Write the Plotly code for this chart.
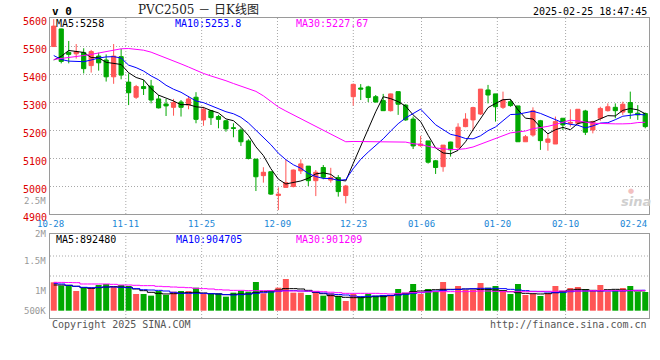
import plotly.graph_objects as go

# ---------------- data ----------------
opens = [5498, 5561, 5477, 5472, 5477, 5430, 5464, 5450, 5390, 5462,
         5371, 5317, 5355, 5357, 5311, 5293, 5281, 5300, 5289, 5317,
         5236, 5269, 5248, 5233, 5208, 5200, 5161, 5096, 5037, 5051,
         4966, 4995, 4998, 5054, 5071, 5019, 5066, 5021, 5030, 4966,
         5319, 5350, 5354, 5319, 5305, 5269, 5337, 5289, 5239, 5144,
         5161, 5090, 5069, 5157, 5138, 5212, 5236, 5257, 5343, 5329,
         5281, 5301, 5286, 5158, 5182, 5233, 5156, 5150, 5242, 5224,
         5224, 5268, 5200, 5242, 5269, 5281, 5264, 5298, 5260, 5259]
highs = [5596, 5562, 5518, 5507, 5492, 5486, 5476, 5470, 5507, 5490,
         5402, 5361, 5379, 5379, 5325, 5311, 5311, 5307, 5321, 5335,
         5283, 5271, 5254, 5236, 5224, 5206, 5167, 5096, 5067, 5051,
         4995, 5095, 5059, 5095, 5071, 5057, 5075, 5065, 5039, 5004,
         5366, 5364, 5358, 5325, 5329, 5330, 5337, 5292, 5248, 5179,
         5161, 5093, 5146, 5158, 5224, 5260, 5283, 5346, 5361, 5329,
         5337, 5310, 5286, 5182, 5281, 5236, 5188, 5248, 5242, 5274,
         5275, 5272, 5233, 5283, 5295, 5295, 5301, 5337, 5289, 5262]
lows = [5497, 5438, 5438, 5455, 5402, 5405, 5412, 5373, 5365, 5381,
        5289, 5311, 5325, 5295, 5277, 5250, 5251, 5248, 5274, 5224,
        5215, 5218, 5206, 5194, 5174, 5143, 5095, 4982, 5012, 4968,
        4914, 4995, 4995, 5043, 5000, 4964, 5024, 5012, 4962, 4938,
        5287, 5307, 5300, 5298, 5268, 5266, 5254, 5233, 5132, 5140,
        5080, 5043, 5051, 5105, 5129, 5210, 5200, 5254, 5295, 5230,
        5275, 5283, 5158, 5158, 5176, 5129, 5126, 5150, 5200, 5212,
        5218, 5182, 5188, 5233, 5266, 5242, 5254, 5240, 5236, 5206]
closes = [5571, 5445, 5470, 5480, 5419, 5480, 5440, 5390, 5464, 5396,
          5333, 5355, 5348, 5307, 5279, 5286, 5298, 5281, 5311, 5238,
          5274, 5244, 5238, 5204, 5206, 5158, 5098, 5033, 5049, 4971,
          4971, 5012, 5057, 5079, 5019, 5049, 5031, 5030, 4980, 5000,
          5363, 5346, 5316, 5300, 5269, 5329, 5292, 5236, 5143, 5150,
          5085, 5066, 5146, 5129, 5210, 5239, 5280, 5346, 5325, 5283,
          5307, 5287, 5158, 5176, 5269, 5162, 5168, 5230, 5218, 5227,
          5274, 5192, 5230, 5277, 5283, 5269, 5292, 5262, 5254, 5212]

ma5 = [5450, 5463, 5484, 5481, 5477, 5458.8, 5457.8, 5441.8, 5438.6, 5434,
       5404.6, 5387.6, 5379.2, 5347.8, 5324.4, 5315, 5303.6, 5290.2, 5291, 5282.8,
       5280.4, 5269.6, 5261, 5239.6, 5233.2, 5210, 5180.8, 5139.8, 5108.8, 5061.8,
       5024.4, 5007.2, 5012, 5018, 5027.6, 5043.2, 5047, 5041.6, 5021.8, 5018,
       5080.8, 5143.8, 5201, 5265, 5318.8, 5312, 5301.2, 5285.2, 5253.8, 5230,
       5181.2, 5136, 5118, 5115.2, 5127.2, 5158, 5200.8, 5240.8, 5280, 5294.6,
       5308.2, 5309.6, 5272, 5242.2, 5239.4, 5210.4, 5186.6, 5201, 5209.4, 5201,
       5223.4, 5228.2, 5228.2, 5240, 5251.2, 5250.2, 5270.2, 5276.6, 5272, 5258]
ma10 = [5466, 5452, 5446, 5444, 5444, 5450, 5457, 5461, 5462, 5457,
        5431.7, 5422.7, 5410.5, 5393.2, 5379.2, 5359.8, 5345.6, 5334.7, 5319.4, 5303.6,
        5297.7, 5286.6, 5275.6, 5265.3, 5258, 5245.2, 5225.2, 5200.4, 5174.2, 5147.5,
        5117.2, 5094, 5075.9, 5063.4, 5044.7, 5033.8, 5027.1, 5026.8, 5019.9, 5022.8,
        5062, 5095.4, 5121.3, 5143.4, 5168.4, 5196.4, 5222.5, 5243.1, 5259.4, 5274.4,
        5246.6, 5218.6, 5201.6, 5184.5, 5178.6, 5169.6, 5168.4, 5179.4, 5197.6, 5210.9,
        5233.1, 5255.2, 5256.4, 5261.1, 5267, 5259.3, 5248.1, 5236.5, 5225.8, 5220.2,
        5216.9, 5207.4, 5214.6, 5224.7, 5226.1, 5236.8, 5249.2, 5252.4, 5256, 5253.8]
ma30 = [5452, 5455, 5459, 5462, 5466, 5470, 5475, 5480, 5485, 5490,
        5491, 5489, 5485, 5478, 5468, 5458, 5447, 5436, 5425, 5413,
        5402, 5393, 5385, 5376, 5366, 5357, 5348, 5338, 5322, 5302.2,
        5282.2, 5267.8, 5254, 5240.6, 5227.3, 5212.9, 5199.3, 5187.3, 5171.2, 5158,
        5159, 5158.7, 5157.6, 5157.4, 5157, 5158.5, 5158.3, 5156.8, 5151.2, 5148.2,
        5141.9, 5136, 5132.9, 5130.4, 5130.6, 5133.3, 5139.3, 5149.8, 5159, 5169.4,
        5180.6, 5189.7, 5193.1, 5196.3, 5204.7, 5208.4, 5213, 5219.7, 5227.6, 5235.2,
        5232.2, 5227.1, 5224.2, 5223.4, 5223.9, 5221.9, 5221.9, 5222.8, 5226.5, 5227.67]

volumes = [1062000, 996000, 1009000, 890000, 956000, 956000, 1009000, 1029000, 976000, 1009000,
           989000, 831000, 831000, 798000, 890000, 811000, 877000, 890000, 890000, 956000,
           844000, 831000, 844000, 778000, 857000, 890000, 877000, 1068000, 844000, 890000,
           956000, 1128000, 857000, 857000, 811000, 877000, 798000, 844000, 791000, 692000,
           831000, 778000, 831000, 798000, 811000, 798000, 930000, 844000, 1029000, 831000,
           930000, 877000, 1068000, 831000, 989000, 910000, 910000, 1048000, 956000, 989000,
           890000, 831000, 1029000, 811000, 831000, 791000, 844000, 989000, 890000, 950000,
           969000, 930000, 890000, 1009000, 877000, 897000, 950000, 989000, 870000, 870000]
vol_ma5 = [1009000, 1009000, 1003000, 983000, 956000, 943000, 956000, 969000, 976000, 969000,
           963000, 930000, 897000, 864000, 844000, 831000, 837000, 851000, 857000, 864000,
           851000, 837000, 831000, 818000, 824000, 831000, 831000, 857000, 877000, 890000,
           910000, 937000, 937000, 930000, 903000, 864000, 837000, 798000, 785000, 765000,
           758000, 758000, 771000, 778000, 778000, 798000, 824000, 844000, 877000, 890000,
           903000, 916000, 923000, 923000, 923000, 930000, 930000, 923000, 923000, 910000,
           897000, 877000, 857000, 844000, 837000, 831000, 837000, 857000, 884000, 910000,
           923000, 916000, 903000, 897000, 916000, 923000, 910000, 903000, 890000, 892480]
vol_ma10 = [1042000, 1029000, 1003000, 983000, 963000, 956000, 963000, 969000, 969000, 963000,
            956000, 937000, 916000, 910000, 903000, 890000, 864000, 844000, 844000, 844000,
            844000, 837000, 831000, 818000, 811000, 818000, 831000, 844000, 857000, 870000,
            884000, 897000, 897000, 890000, 885000, 870000, 850000, 830000, 820000, 811000,
            791000, 778000, 785000, 791000, 798000, 804000, 811000, 824000, 844000, 857000,
            877000, 890000, 903000, 916000, 923000, 930000, 937000, 943000, 943000, 943000,
            937000, 923000, 910000, 897000, 884000, 877000, 870000, 857000, 864000, 877000,
            890000, 890000, 890000, 890000, 890000, 890000, 890000, 897000, 903000, 904705]
vol_ma30 = [1062000, 1060000, 1058000, 1055000, 1029000, 1029000, 1029000, 1029000, 1022000, 1009000,
            1009000, 1003000, 996000, 996000, 983000, 976000, 969000, 963000, 956000, 943000,
            937000, 930000, 916000, 910000, 903000, 903000, 897000, 897000, 897000, 897000,
            890000, 890000, 890000, 890000, 888000, 884000, 876000, 866000, 857000, 844000,
            844000, 844000, 844000, 844000, 837000, 831000, 837000, 851000, 857000, 864000,
            870000, 877000, 877000, 877000, 877000, 877000, 884000, 890000, 890000, 884000,
            877000, 877000, 877000, 877000, 877000, 884000, 884000, 884000, 890000, 890000,
            890000, 890000, 897000, 897000, 897000, 897000, 897000, 897000, 903000, 901209]

date_labels = ["10-28", "11-11", "11-25", "12-09", "12-23", "01-06", "01-20", "02-10", "02-24"]
date_index = [0, 10, 20, 30, 40, 49, 59, 68, 77]
price_ticks = [4900, 5000, 5100, 5200, 5300, 5400, 5500, 5600]
vol_tick_labels = ["2.5M", "2M", "1.5M", "1M", "500K"]

# ---------------- styling ----------------
N = len(closes)
x = list(range(N))
RED = "#ff5555"
GREEN = "#00a800"
MONO = "DejaVu Sans Mono"
GRID = "#a8a8a8"
BORDER = "#9a9a9a"
VOL_BASE = 500000

W, H = 660, 360
ML, MR, MT, MB = 50, 11, 18, 42
PH = H - MT - MB


def py(p):  # pixel y -> paper y
    return (H - MB - p) / PH


def px(p):  # pixel x -> paper x
    return (p - ML) / (W - ML - MR)


fig = go.Figure()

fig.add_trace(go.Candlestick(
    x=x, open=opens, high=highs, low=lows, close=closes,
    increasing=dict(line=dict(color=RED, width=1), fillcolor=RED),
    decreasing=dict(line=dict(color=GREEN, width=1), fillcolor=GREEN),
    whiskerwidth=0, xaxis="x", yaxis="y", hoverinfo="skip"))

for vals, col in [(ma5, "#000000"), (ma10, "#0000ff"), (ma30, "#ff00ff")]:
    fig.add_trace(go.Scatter(x=x, y=vals, mode="lines", line=dict(color=col, width=1),
                             xaxis="x", yaxis="y", hoverinfo="skip"))

bar_colors = [RED if c >= o else GREEN for o, c in zip(opens, closes)]
fig.add_trace(go.Bar(x=x, y=[v - VOL_BASE for v in volumes], base=VOL_BASE,
                     marker=dict(color=bar_colors, line=dict(width=0)), width=0.8,
                     xaxis="x2", yaxis="y2", hoverinfo="skip"))
for vals, col in [(vol_ma5, "#000000"), (vol_ma10, "#0000ff"), (vol_ma30, "#ff00ff")]:
    fig.add_trace(go.Scatter(x=x, y=vals, mode="lines", line=dict(color=col, width=1, shape="hvh"),
                             xaxis="x2", yaxis="y2", hoverinfo="skip"))

axis_common = dict(showline=True, mirror=True, linecolor=BORDER, linewidth=1, zeroline=False)

fig.update_layout(
    width=W, height=H, margin=dict(l=ML, r=MR, t=MT, b=MB),
    paper_bgcolor="white", plot_bgcolor="white", showlegend=False,
    boxgap=0.2, hovermode=False,
    xaxis=dict(domain=[0, 1], range=[-0.5, N - 0.5], showgrid=False, showticklabels=False,
               rangeslider=dict(visible=False), anchor="y", **axis_common),
    yaxis=dict(domain=[py(214), 1], range=[4900, 5600], tickvals=price_ticks,
               tickfont=dict(family=MONO, size=10, color="#dd0000"), ticks="",
               ticklabelshift=3,
               showgrid=True, gridcolor=GRID, griddash="1px,2px", gridwidth=1,
               anchor="x", **axis_common),
    xaxis2=dict(domain=[0, 1], range=[-0.5, N - 0.5], showgrid=False, showticklabels=False,
                anchor="y2", **axis_common),
    yaxis2=dict(domain=[0, py(234)], range=[355446, 2018812], showgrid=False,
                showticklabels=False, anchor="x2", **axis_common),
)

# vertical dotted grid lines at date positions (sina spaces date marks over N-1 steps)
for k, (lab, i) in enumerate(zip(date_labels, date_index)):
    gx = i * N / (N - 1) - 0.5
    if 0 < k < len(date_index) - 1:
        for xr, yr in [("x", "y domain"), ("x2", "y2 domain")]:
            fig.add_shape(type="line", xref=xr, yref=yr, x0=gx, x1=gx, y0=0, y1=1,
                          line=dict(color=GRID, width=1, dash="1px,2px"), layer="below")
    fig.add_annotation(x=gx, xref="x", y=py(223.5), yref="paper", text=lab, showarrow=False,
                       font=dict(family=MONO, size=9, color="#1a86d6"),
                       xanchor="center", yanchor="middle", borderpad=0)

# horizontal dotted grid lines in volume panel
for gy in [256, 276]:
    fig.add_shape(type="line", xref="x2 domain", yref="paper", x0=0, x1=1, y0=py(gy), y1=py(gy),
                  line=dict(color=GRID, width=1, dash="1px,2px"), layer="below")

# volume axis labels (positioned as in the original)
for lab, yp in zip(vol_tick_labels, [201, 234, 261, 291, 311]):
    fig.add_annotation(x=px(47), xref="paper", y=py(yp), yref="paper", text=lab, showarrow=False,
                       font=dict(family=MONO, size=9, color="#999999"),
                       xanchor="right", yanchor="middle", borderpad=0)


def legend(items, ypix):
    for txt, col, xp in items:
        fig.add_annotation(x=px(xp), xref="paper", y=py(ypix), yref="paper", text=txt,
                           showarrow=False, font=dict(family=MONO, size=10, color=col),
                           xanchor="left", yanchor="middle")


legend([(f"MA5:{ma5[-1]}", "#000000", 54), (f"MA10:{ma10[-1]}", "#0000ff", 173),
        (f"MA30:{ma30[-1]}", "#ff00ff", 294)], 23)
legend([(f"MA5:{vol_ma5[-1]}", "#000000", 54), (f"MA10:{vol_ma10[-1]}", "#0000ff", 174),
        (f"MA30:{vol_ma30[-1]}", "#ff00ff", 294)], 239)

# header / footer texts
fig.add_annotation(x=px(50), xref="paper", y=py(12), yref="paper", text="<b>v 0</b>",
                   showarrow=False, font=dict(family=MONO, size=11, color="#000000"),
                   xanchor="left", yanchor="middle")
fig.add_annotation(x=px(198), xref="paper", y=py(10), yref="paper", text="PVC2505 － 日K线图",
                   showarrow=False, font=dict(family="DejaVu Serif, Noto Sans CJK SC", size=12,
                                              color="#222222"),
                   xanchor="center", yanchor="middle")
fig.add_annotation(x=px(649), xref="paper", y=py(12), yref="paper", text="2025-02-25 18:47:45",
                   showarrow=False, font=dict(family=MONO, size=10, color="#000000"),
                   xanchor="right", yanchor="middle")
fig.add_annotation(x=px(50), xref="paper", y=py(324), yref="paper", text="Copyright 2025 SINA.COM",
                   showarrow=False, font=dict(family=MONO, size=10, color="#555555"),
                   xanchor="left", yanchor="middle")
fig.add_annotation(x=px(649), xref="paper", y=py(324), yref="paper", text="http://finance.sina.com.cn",
                   showarrow=False, font=dict(family=MONO, size=10, color="#555555"),
                   xanchor="right", yanchor="middle")
# watermark
fig.add_annotation(x=px(636), xref="paper", y=py(201), yref="paper", text="sina",
                   showarrow=False, font=dict(family="DejaVu Sans", size=13, color="#cfcfcf",
                                              style="italic", weight="bold"),
                   xanchor="center", yanchor="middle")
fig.add_annotation(x=px(631), xref="paper", y=py(191), yref="paper", text="●",
                   showarrow=False, font=dict(family="DejaVu Sans", size=7, color="#f2c0c0"),
                   xanchor="center", yanchor="middle")

fig.write_html("out.html", config={"displayModeBar": False, "staticPlot": True},
               post_script="document.body.style.margin='0';"
                           "document.documentElement.style.margin='0';"
                           "document.body.style.overflow='hidden';")
